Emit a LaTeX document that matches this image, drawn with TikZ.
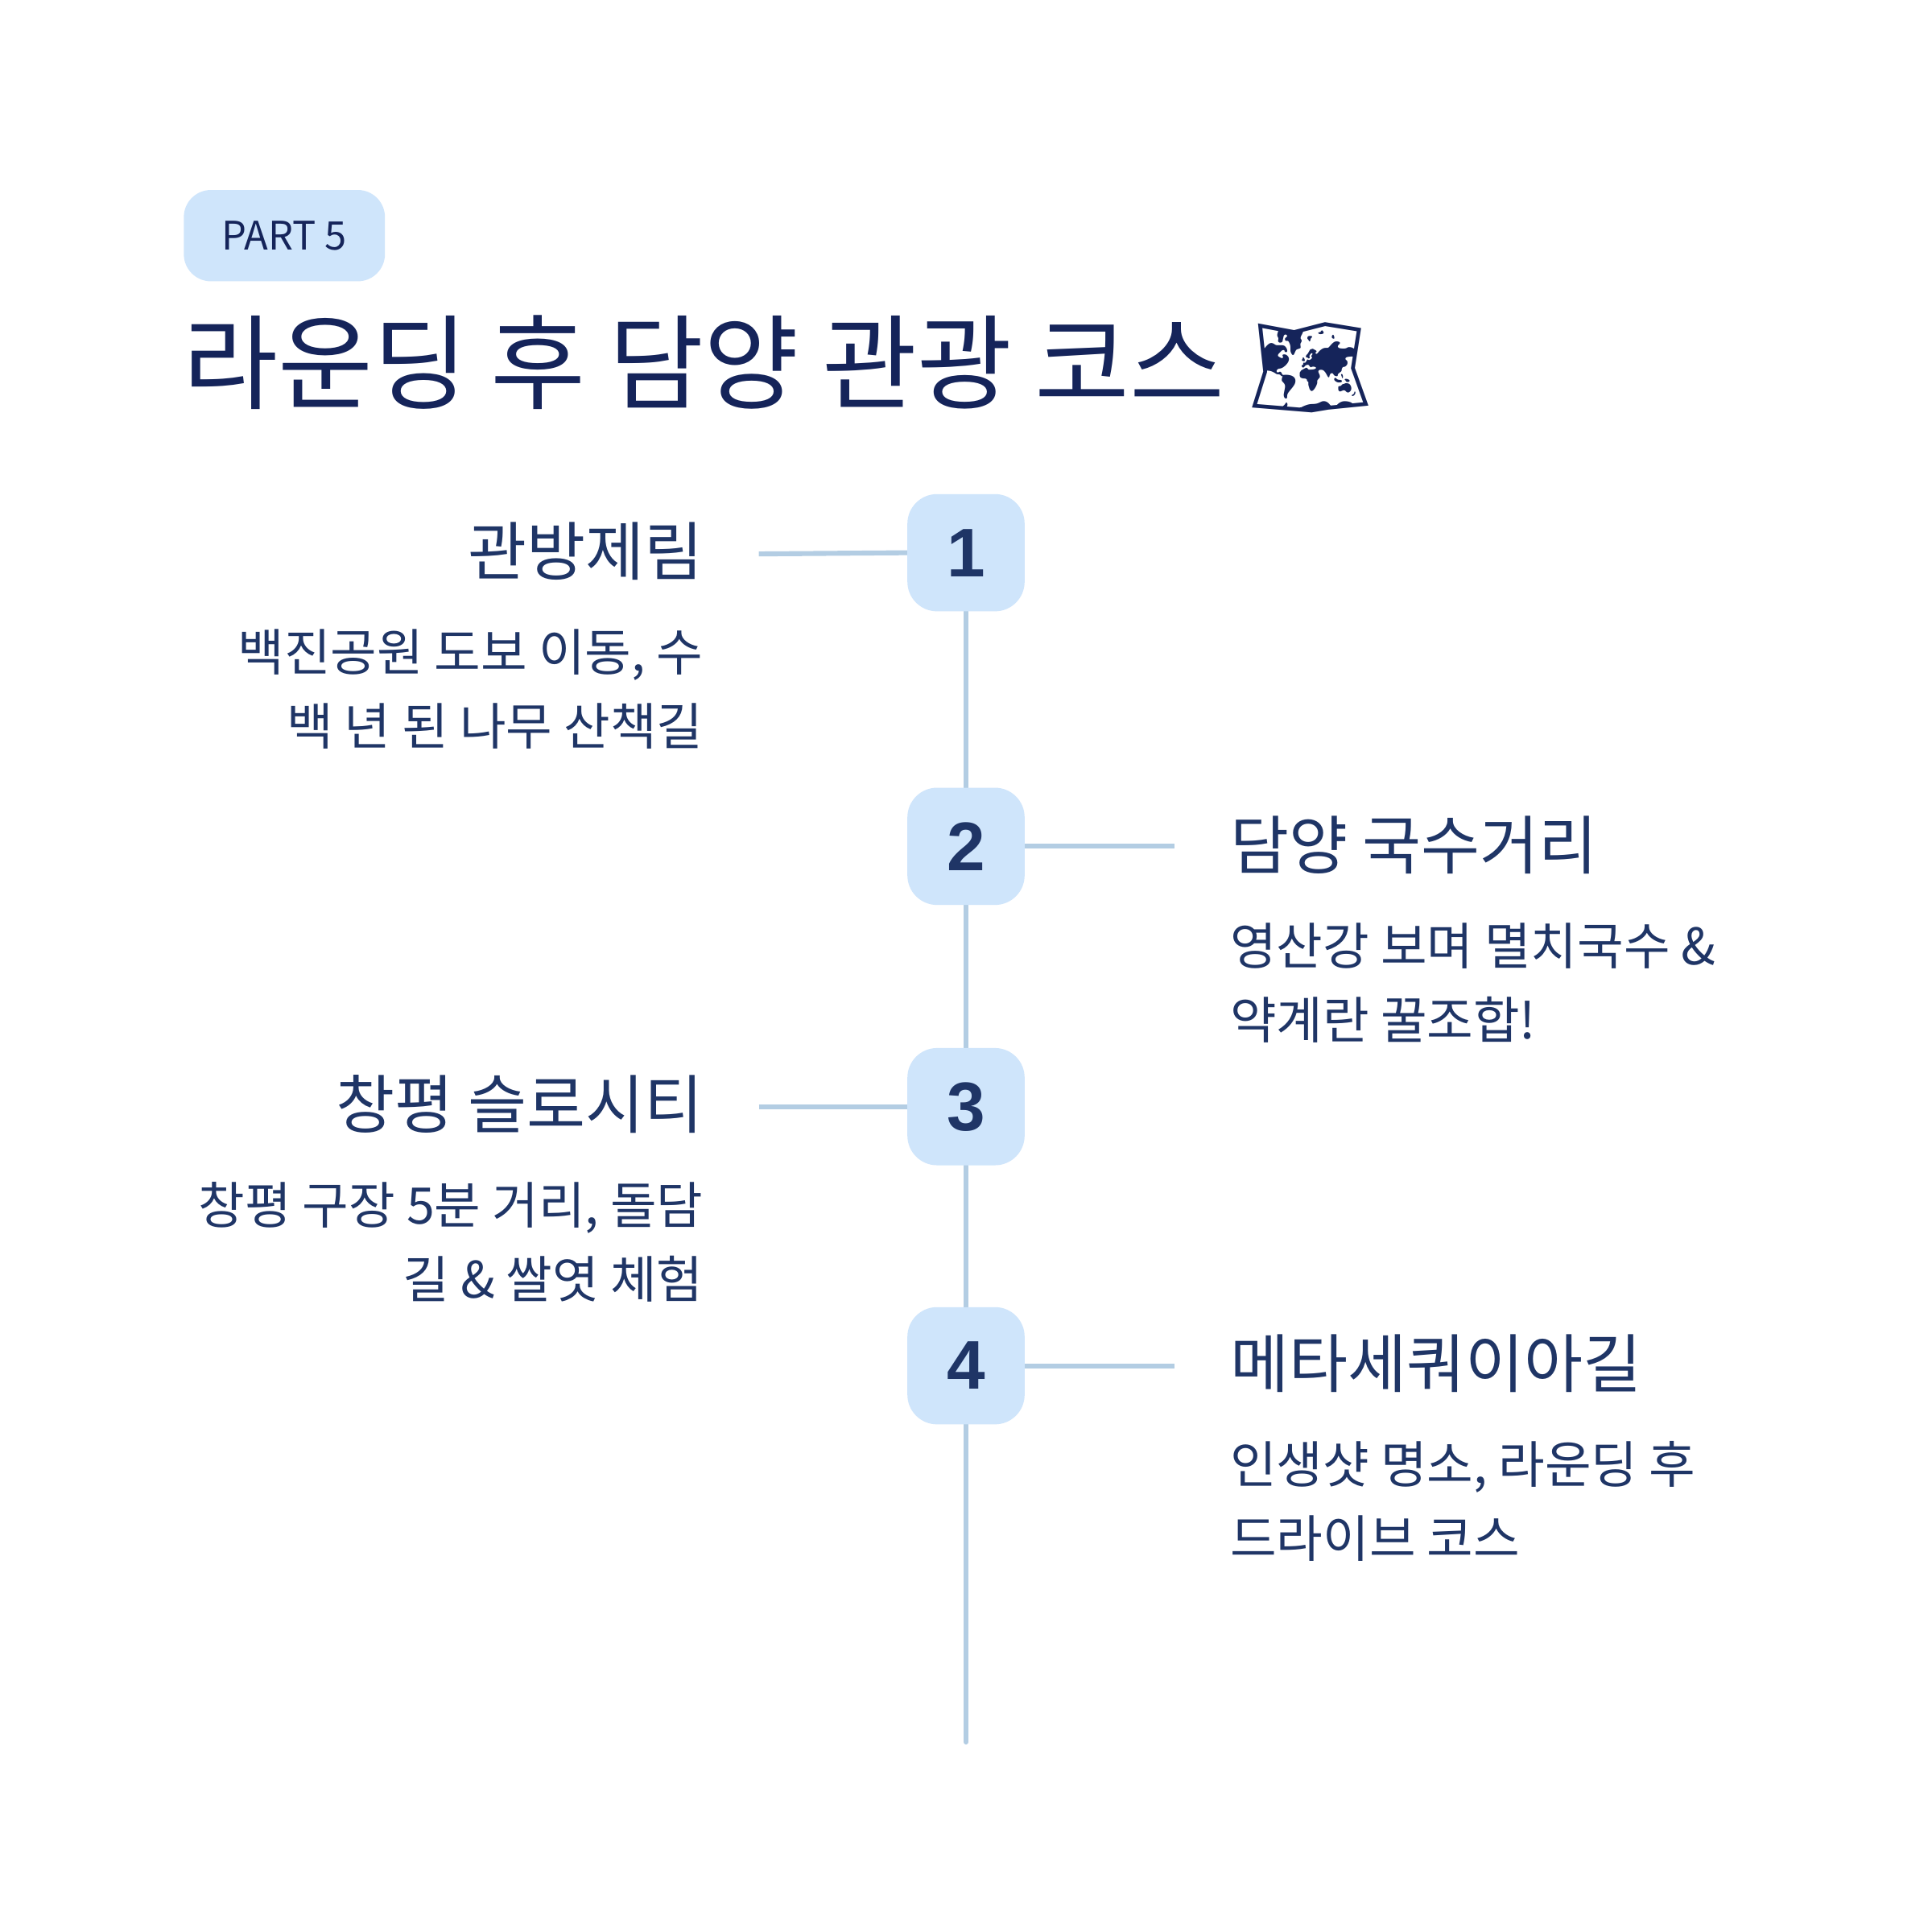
\documentclass[tikz,border=0pt]{standalone}
\usepackage{fontspec}
\newfontfamily\kr{Noto Sans CJK KR}
\newfontfamily\num{Liberation Sans}
\newfontfamily\emo{Noto Emoji}
\definecolor{navy}{HTML}{15245A}
\definecolor{txt}{HTML}{1F3566}
\definecolor{pill}{HTML}{CFE5FB}
\definecolor{ln}{HTML}{B3CDE3}
\begin{document}
\begin{tikzpicture}[x=1bp,y=-1bp,
 numbox/.style={fill=pill,rounded corners=24bp,minimum width=95bp,minimum height=95bp,inner sep=0pt,text=txt,font=\num\bfseries\fontsize{56}{56}\selectfont},
 ttl/.style={text=txt,font=\kr\fontsize{52}{52}\selectfont,inner sep=0pt},
 dsc/.style={text=txt,font=\kr\fontsize{41}{60}\selectfont,inner sep=0pt},
 conn/.style={draw=ln,line width=4bp}]
\useasboundingbox (0,0) rectangle (1566,1566);
\fill[white] (0,0) rectangle (1566,1566);
\node[fill=pill,rounded corners=22bp,minimum width=163bp,minimum height=74bp,inner sep=0pt,text=navy,font=\kr\fontsize{32}{32}\selectfont] (pill) at (230.5,191) {PART 5};
\node[anchor=west,inner sep=0pt,text=navy,font=\kr\fontsize{84}{84}\selectfont] (title) at (148,295) {라운딩 후 담양 관광 코스 {\emo\fontsize{80}{80}\selectfont 🗺}};
\coordinate (top) at (783,450);
\coordinate (bot) at (783,1412);
\draw[conn,line cap=round] (top) -- (bot);
\node[numbox] (n1) at (783,448) {1};
\node[numbox] (n2) at (783,686) {2};
\node[numbox] (n3) at (783,897) {3};
\node[numbox] (n4) at (783,1107) {4};
\coordinate (c1) at (615,449);
\coordinate (c2) at (952,686);
\coordinate (c3) at (615,897);
\coordinate (c4) at (952,1107);
\draw[conn] (c1) -- (n1.west);
\draw[conn] (n2.east) -- (c2);
\draw[conn] (c3) -- (n3.west);
\draw[conn] (n4.east) -- (c4);
\node[ttl,anchor=east] (t1) at (570,447) {관방제림};
\node[dsc,anchor=north east,align=right] (d1) at (570,510) {백진공원 도보 이동, 수\\백 년 된 나무 산책길};
\node[ttl,anchor=west] (t2) at (997,685) {담양 국수거리};
\node[dsc,anchor=north west,align=left] (d2) at (997,748) {영산강 보며 멸치국수 \&\\약계란 꿀조합!};
\node[ttl,anchor=east] (t3) at (570,895) {창평 슬로시티};
\node[dsc,anchor=north east,align=right] (d3) at (570,958) {창평 구장 5분 거리, 돌담\\길 \& 쌀엿 체험};
\node[ttl,anchor=west] (t4) at (997,1105) {메타세쿼이아길};
\node[dsc,anchor=north west,align=left] (d4) at (997,1168) {인생샷 명소, 라운딩 후\\드라이브 코스};
\end{tikzpicture}
\end{document}
